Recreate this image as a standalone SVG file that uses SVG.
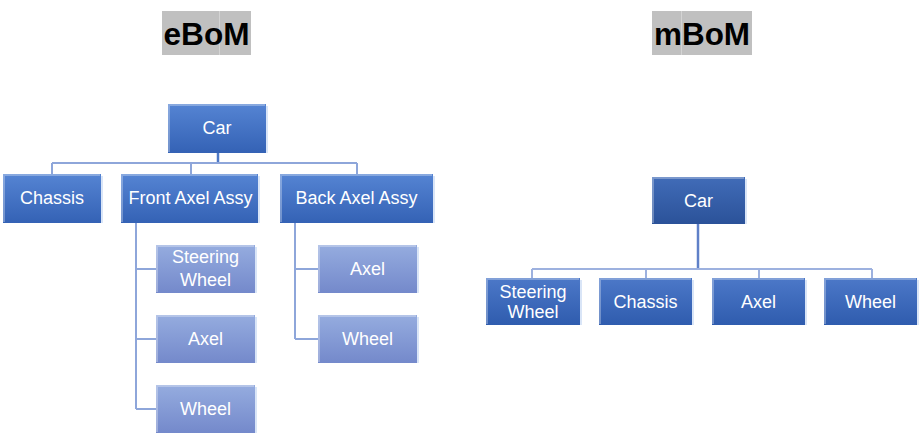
<svg xmlns="http://www.w3.org/2000/svg" width="920" height="440" viewBox="0 0 920 440">
<defs>
<linearGradient id="gL1" x1="0" y1="0" x2="0" y2="1"><stop offset="0" stop-color="#5584d3"/><stop offset="1" stop-color="#3462b5"/></linearGradient>
<linearGradient id="gL2" x1="0" y1="0" x2="0" y2="1"><stop offset="0" stop-color="#95acdf"/><stop offset="1" stop-color="#7489cb"/></linearGradient>
<linearGradient id="gM0" x1="0" y1="0" x2="0" y2="1"><stop offset="0" stop-color="#416cb8"/><stop offset="1" stop-color="#2b5299"/></linearGradient>
<linearGradient id="gM1" x1="0" y1="0" x2="0" y2="1"><stop offset="0" stop-color="#4c78c8"/><stop offset="1" stop-color="#2f5cae"/></linearGradient>
</defs>
<style>
text{font-family:"Liberation Sans",Arial,sans-serif}
.t{fill:#ffffff;font-size:18px;text-anchor:middle}
.title{fill:#000000;font-size:31px;font-weight:bold;text-anchor:middle}
.tbg{fill:#c0c0c0}
.tsep{stroke:#d4d4d4;stroke-width:1}
.l1{fill:url(#gL1)}
.l2{fill:url(#gL2)}
.m0{fill:url(#gM0)}
.m1{fill:url(#gM1)}
.hl{fill:none;stroke:#ffffff;stroke-opacity:0.3;stroke-width:2}
.rs{fill:none;stroke:#cddcf5;stroke-width:1.5}
.cl{fill:none;stroke:#8ea6da;stroke-width:2}
.cd{fill:none;stroke:#4d78c6;stroke-width:2.5}
.cm{fill:none;stroke:#9db1df;stroke-width:2}
.cmd{fill:none;stroke:#5f80c8;stroke-width:2.5}
</style>

<g id="title-ebom">
<rect class="tbg" x="162" y="11" width="89" height="44"/>
<line class="tsep" x1="219.5" y1="11" x2="219.5" y2="55"/>
<text class="title" x="206.5" y="45" textLength="86" lengthAdjust="spacingAndGlyphs">eBoM</text>
</g>
<g id="title-mbom">
<rect class="tbg" x="652" y="11" width="100" height="44"/>
<line class="tsep" x1="681.5" y1="11" x2="681.5" y2="55"/>
<text class="title" x="702" y="45" textLength="96" lengthAdjust="spacingAndGlyphs">mBoM</text>
</g>

<g id="connectors">
<path class="cd" d="M218 153 V163"/>
<path class="cl" d="M52 163 H357 M52 163 V174 M191 163 V174 M357 163 V174"/>
<path class="cl" d="M136 223 V409 M136 269 H156 M136 339 H156 M136 409 H156"/>
<path class="cl" d="M295 223 V339 M295 269 H318 M295 339 H318"/>
<path class="cmd" d="M698 224 V269"/>
<path class="cm" d="M532 269 H872 M532 269 V278 M646 269 V278 M759 269 V278 M872 269 V278"/>
</g>

<g id="e-car">
<rect class="l1" x="168" y="104" width="98" height="49"/>
<path class="hl" d="M169 152 V105 H265"/><path class="rs" d="M267 106 V153"/>
<text class="t" x="217" y="134">Car</text>
</g>
<g id="e-chassis">
<rect class="l1" x="3" y="174" width="98" height="49"/>
<path class="hl" d="M4 222 V175 H100"/><path class="rs" d="M102 176 V223"/>
<text class="t" x="52" y="204">Chassis</text>
</g>
<g id="e-front">
<rect class="l1" x="121" y="174" width="137" height="49"/>
<path class="hl" d="M122 222 V175 H257"/><path class="rs" d="M259 176 V223"/>
<text class="t" x="190.5" y="204">Front Axel Assy</text>
</g>
<g id="e-back">
<rect class="l1" x="280" y="174" width="153" height="49"/>
<path class="hl" d="M281 222 V175 H432"/><path class="rs" d="M434 176 V223"/>
<text class="t" x="356.5" y="204">Back Axel Assy</text>
</g>
<g id="e-front-steering">
<rect class="l2" x="156" y="245" width="99" height="48"/>
<path class="hl" d="M157 292 V246 H254"/><path class="rs" d="M256 247 V293"/>
<text class="t" x="205.5" y="263">Steering</text>
<text class="t" x="205.5" y="286">Wheel</text>
</g>
<g id="e-front-axel">
<rect class="l2" x="156" y="315" width="99" height="48"/>
<path class="hl" d="M157 362 V316 H254"/><path class="rs" d="M256 317 V363"/>
<text class="t" x="205.5" y="345">Axel</text>
</g>
<g id="e-front-wheel">
<rect class="l2" x="156" y="385" width="99" height="48"/>
<path class="hl" d="M157 432 V386 H254"/><path class="rs" d="M256 387 V433"/>
<text class="t" x="205.5" y="415">Wheel</text>
</g>
<g id="e-back-axel">
<rect class="l2" x="318" y="245" width="99" height="48"/>
<path class="hl" d="M319 292 V246 H416"/><path class="rs" d="M418 247 V293"/>
<text class="t" x="367.5" y="275">Axel</text>
</g>
<g id="e-back-wheel">
<rect class="l2" x="318" y="315" width="99" height="48"/>
<path class="hl" d="M319 362 V316 H416"/><path class="rs" d="M418 317 V363"/>
<text class="t" x="367.5" y="345">Wheel</text>
</g>

<g id="m-car">
<rect class="m0" x="652" y="177" width="93" height="47"/>
<path class="hl" d="M653 223 V178 H744"/><path class="rs" d="M746 179 V224"/>
<text class="t" x="698.5" y="207">Car</text>
</g>
<g id="m-steering">
<rect class="m1" x="486" y="278" width="94" height="47"/>
<path class="hl" d="M487 324 V279 H579"/><path class="rs" d="M581 280 V325"/>
<text class="t" x="533" y="298">Steering</text>
<text class="t" x="533" y="318">Wheel</text>
</g>
<g id="m-chassis">
<rect class="m1" x="599" y="278" width="93" height="47"/>
<path class="hl" d="M600 324 V279 H691"/><path class="rs" d="M693 280 V325"/>
<text class="t" x="645.5" y="308">Chassis</text>
</g>
<g id="m-axel">
<rect class="m1" x="712" y="278" width="93" height="47"/>
<path class="hl" d="M713 324 V279 H804"/><path class="rs" d="M806 280 V325"/>
<text class="t" x="758.5" y="308">Axel</text>
</g>
<g id="m-wheel">
<rect class="m1" x="824" y="278" width="93" height="47"/>
<path class="hl" d="M825 324 V279 H916"/><path class="rs" d="M918 280 V325"/>
<text class="t" x="870.5" y="308">Wheel</text>
</g>
</svg>
